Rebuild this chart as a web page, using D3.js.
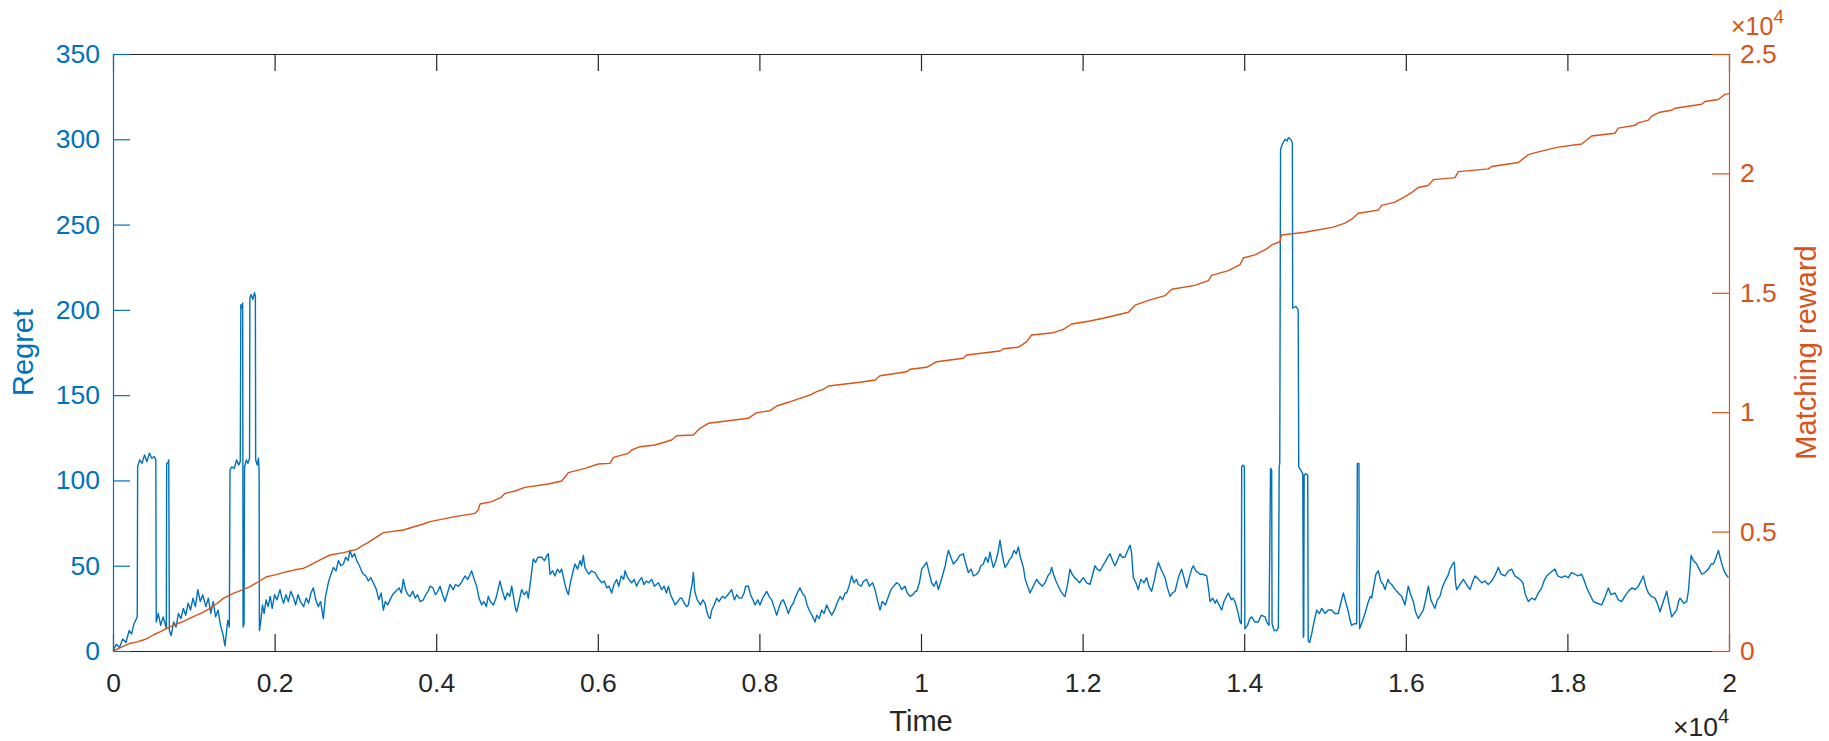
<!DOCTYPE html>
<html>
<head>
<meta charset="utf-8">
<script src="https://cdn.jsdelivr.net/npm/d3@7"></script>
<style>
	body { margin: 0; background: #ffffff; }
	text { font-family: "Liberation Sans", Arial, Helvetica, sans-serif; }
</style>
</head>
<body>
<div id="mioGrafico"></div>
<script>
// Tick degli assi
var timeTicks = [0, 2000, 4000, 6000, 8000, 10000, 12000, 14000, 16000, 18000, 20000];
var timeTickLabels = ["0", "0.2", "0.4", "0.6", "0.8", "1", "1.2", "1.4", "1.6", "1.8", "2"];
var regretTicks = [0, 50, 100, 150, 200, 250, 300, 350];
var rewardTicks = [0, 5000, 10000, 15000, 20000, 25000];
var rewardTickLabels = ["0", "0.5", "1", "1.5", "2", "2.5"];

// Regret nel tempo [tempo, regret]
var regret = [
	[0,0],[40,4],[80,2],[120,7],[160,5],[200,12],[230,10],[260,16],[290,19],[300,20],
	[305,108],[330,112],[360,110],[390,115],[420,111],[450,116],[480,113],[510,114],[530,112],
	[535,17],[560,22],[590,15],[620,20],[645,16],[660,13],
	[664,110],[680,110],[690,112],[697,12],
	[720,9],[750,17],[780,14],[810,22],[840,19],[870,25],[900,21],[930,28],[960,24],[990,31],[1020,26],
	[1050,36],[1080,29],[1110,33],[1150,26],[1180,31],[1210,22],[1240,29],[1270,20],[1300,24],[1330,15],
	[1360,10],[1385,3],[1400,9],[1420,18],[1440,14],
	[1448,106],[1470,108],[1500,107],[1530,112],[1555,109],[1575,111],
	[1582,203],[1595,201],[1605,204],
	[1610,14],[1622,16],
	[1628,108],[1650,112],[1670,110],[1690,113],
	[1694,207],[1710,209],[1730,206],[1750,210],[1762,208],
	[1766,112],[1785,109],[1800,113],[1808,106],
	[1812,12],[1830,18],[1850,27],[1870,22],[1895,30],[1920,26],[1945,32],[1970,25],[2000,33],[2030,30],
	[2067,36],[2090,31],[2112,28],[2140,33],[2170,29],[2200,35],[2236,31],[2260,27],[2290,33],[2320,29],
	[2360,26],[2390,31],[2420,28],[2450,34],[2479,37],[2510,30],[2540,26],[2570,29],[2603,19],[2630,32],
	[2665,40],[2690,44],[2727,49],[2760,47],[2790,53],[2820,50],[2851,51],[2880,55],[2910,53],[2933,59],
	[2960,55],[2990,57],[3016,53],[3050,50],[3075,47],[3098,45],[3130,44],[3160,41],[3190,43],[3222,40],
	[3260,36],[3290,30],[3320,34],[3346,24],[3370,29],[3400,27],[3428,30],[3460,33],[3500,35],[3540,37],
	[3570,34],[3593,42],[3620,36],[3650,33],[3676,32],[3710,35],[3740,31],[3770,33],[3800,29],[3841,30],
	[3870,33],[3900,35],[3923,38],[3960,37],[3990,33],[4020,35],
	[4047,38],[4080,33],[4109,29],[4140,34],[4171,39],[4210,36],[4240,39],[4274,38],[4310,40],[4357,44],
	[4390,42],[4420,45],[4439,47],[4470,42],[4501,38],[4530,31],[4563,27],[4590,29],[4620,26],[4645,32],
	[4670,29],[4707,27],[4740,31],[4760,35],[4790,41],[4820,35],[4852,30],[4880,34],[4910,32],[4934,38],
	[4960,31],[4980,25],[4996,23],[5020,28],[5058,36],[5090,33],[5120,35],[5140,31],[5170,42],[5202,54],
	[5230,52],[5260,55],[5305,55],[5340,53],[5370,56],[5388,57],[5409,45],[5440,47],[5470,44],[5500,48],
	[5530,46],[5553,48],[5580,42],[5610,36],[5636,33],[5660,40],[5690,46],[5718,51],[5750,48],[5780,53],
	[5800,50],[5821,56],[5840,49],[5863,47],[5890,45],[5920,47],[5966,46],[6000,43],[6049,40],[6080,41],
	[6110,37],[6140,38],[6172,34],[6200,39],[6234,42],[6260,38],[6290,44],[6320,42],[6337,47],[6370,43],
	[6400,41],[6420,40],[6450,42],[6480,38],[6510,41],[6543,43],[6570,39],[6600,41],[6630,40],[6667,42],
	[6700,38],[6750,40],[6790,36],[6820,38],[6850,34],[6874,38],[6900,33],[6930,30],[6956,27],[6990,29],
	[7020,31],[7039,31],[7070,28],[7100,26],[7121,27],[7150,35],[7170,40],[7183,46],[7200,35],[7230,30],
	[7245,29],[7270,27],[7300,30],[7327,28],[7350,23],[7370,20],[7389,19],[7410,24],[7440,27],[7472,31],
	[7500,29],[7540,32],[7575,31],[7610,33],[7657,36],[7690,30],[7720,33],[7750,31],[7781,31],[7810,34],
	[7830,38],[7864,38],[7890,33],[7920,30],[7946,27],[7980,30],[8007,27],
	[8040,31],[8090,35],[8120,32],[8152,30],[8180,26],[8214,21],[8240,25],[8270,29],[8296,30],[8330,26],
	[8358,22],[8390,26],[8420,28],[8441,31],[8470,34],[8502,37],[8530,34],[8564,32],[8590,27],[8626,23],
	[8650,21],[8670,19],[8688,17],[8710,21],[8740,19],[8771,24],[8800,22],[8833,27],[8860,24],[8895,21],
	[8930,24],[8960,28],[8998,32],[9030,30],[9060,34],[9080,34],[9110,38],[9142,44],[9170,40],[9200,42],
	[9225,39],[9260,38],[9290,41],[9328,42],[9360,38],[9400,40],[9431,36],[9460,30],[9493,24],[9520,29],
	[9560,27],[9596,32],[9630,36],[9660,38],[9699,40],[9730,39],[9760,36],[9802,38],[9830,34],[9864,32],
	[9900,33],[9930,35],[9947,35],[9980,40],[10009,48],[10040,50],[10070,52],[10100,46],[10132,40],[10160,38],
	[10190,41],[10215,36],[10240,40],[10277,46],[10300,50],[10320,55],[10339,59],[10370,55],[10400,51],[10440,53],
	[10480,56],[10524,57],[10550,52],[10586,46],[10620,48],[10650,44],[10689,45],[10720,47],[10740,50],[10771,51],
	[10800,55],[10830,52],[10854,58],[10875,53],[10895,49],[10920,52],[10950,57],[10978,65],[11000,58],[11020,53],
	[11040,49],[11070,51],[11100,54],[11122,55],[11150,59],[11180,57],[11205,61],[11230,55],[11267,49],[11290,42],
	[11320,38],[11349,34],[11380,37],[11410,40],[11432,42],[11460,40],[11500,38],[11535,40],[11570,44],[11600,46],
	[11617,49],[11640,45],[11670,41],[11700,38],[11730,35],[11760,33],[11782,32],[11810,38],[11844,48],[11870,45],
	[11900,43],[11926,42],[11960,40],[12009,43],[12050,40],
	[12091,39],[12120,44],[12153,50],[12180,48],[12215,47],[12250,50],[12277,52],[12310,55],[12339,57],[12370,53],
	[12401,50],[12430,53],[12463,57],[12490,55],[12524,55],[12550,58],[12586,62],[12605,58],[12628,43],[12660,40],
	[12689,36],[12720,42],[12760,40],[12793,43],[12820,38],[12854,35],[12890,42],[12910,47],[12937,52],[12970,48],
	[13000,45],[13020,43],[13050,37],[13082,32],[13110,34],[13144,35],[13180,42],[13200,45],[13226,48],[13260,42],
	[13288,37],[13320,43],[13350,48],[13371,50],[13400,47],[13430,46],[13453,45],[13490,45],[13536,44],[13560,36],
	[13577,29],[13610,31],[13640,28],[13659,30],[13690,27],[13721,24],[13750,29],[13780,32],[13804,34],[13840,30],
	[13860,31],[13886,29],[13910,25],[13930,21],[13948,17],[13965,16],
	[13969,108],[13985,109],[14002,108],[14008,13],[14040,15],[14070,19],[14093,20],[14130,17],[14175,17],[14210,21],
	[14258,20],[14280,17],[14307,15],
	[14326,107],[14340,106],[14345,16],[14370,12],[14403,12],[14423,14],
	[14433,108],[14440,110],[14450,294],[14470,297],[14505,300],[14530,299],[14547,301],[14575,300],[14596,298],
	[14600,201],[14640,202],[14668,200],[14675,108],[14700,106],[14725,104],[14732,8],[14737,9],[14742,103],
	[14760,104],[14786,103],[14792,6],[14810,5],[14835,10],[14860,16],[14897,24],[14930,22],[14960,25],[15000,22],
	[15040,24],[15083,24],[15120,22],[15165,22],[15200,29],[15227,34],[15260,28],[15289,23],[15310,18],[15330,15],
	[15360,16],[15392,16],[15400,110],[15420,110],[15428,13],[15460,17],[15495,22],[15530,28],[15560,32],[15578,31],
	[15610,40],[15630,45],[15660,47],[15690,41],[15720,39],[15742,36],[15780,42],[15800,40],[15825,39],[15870,36],
	[15907,34],[15950,32],[15990,27],
	[16031,38],[16060,33],[16093,29],[16120,23],[16155,19],[16190,22],[16217,24],[16250,31],[16279,38],[16310,30],
	[16340,27],[16361,25],[16390,30],[16423,32],[16450,37],[16485,41],[16520,44],[16547,48],[16580,51],[16601,52],
	[16615,40],[16630,36],[16670,39],[16712,42],[16750,39],[16795,36],[16830,41],[16857,44],[16900,42],[16940,40],
	[16980,41],[17020,39],[17063,41],[17100,44],[17145,49],[17180,45],[17228,44],[17270,47],[17310,48],[17350,44],
	[17413,42],[17450,40],[17480,33],[17517,29],[17560,31],[17599,30],[17640,34],[17682,37],[17710,41],[17744,44],
	[17790,46],[17847,48],[17880,44],[17929,43],[17970,44],[18012,43],[18050,46],[18094,45],[18130,44],[18177,45],
	[18210,41],[18239,37],[18280,33],[18321,29],[18370,28],[18424,27],[18460,31],[18507,37],[18540,33],[18589,34],
	[18630,30],[18672,29],[18710,32],[18754,35],[18800,37],[18840,36],[18878,38],[18910,41],[18940,44],[18970,38],
	[19002,34],[19040,32],[19085,31],[19120,27],[19147,23],[19180,28],[19229,35],[19260,27],[19291,20],[19320,22],
	[19353,24],[19375,29],[19395,31],[19440,28],[19477,29],[19500,36],[19531,56],[19560,53],[19601,51],[19630,48],
	[19663,45],[19700,46],[19745,48],[19780,51],[19807,51],[19840,55],[19869,59],[19900,53],[19931,48],[19960,45],
	[19993,43]
];

// Matching reward cumulato [tempo, reward]
var reward = [
	[0,0],[100,150],[210,322],[300,380],[375,460],[420,520],[499,670],[580,800],[664,950],[730,1050],
	[788,1130],[880,1250],[994,1437],[1100,1600],[1200,1787],[1290,2000],[1365,2205],[1420,2300],[1489,2416],[1600,2560],
	[1696,2693],[1800,2900],[1902,3111],[2020,3200],[2150,3321],[2250,3400],[2355,3461],[2440,3600],[2521,3740],[2600,3880],
	[2686,4020],[2851,4118],[2950,4200],[3016,4258],[3080,4400],[3140,4509],[3250,4750],[3346,4955],[3593,5067],[3758,5234],
	[3850,5330],[3923,5416],[4233,5625],[4480,5765],[4520,5900],[4542,6156],[4687,6254],[4800,6420],[4852,6603],[4975,6700],
	[5099,6854],[5388,6993],[5553,7119],[5610,7350],[5635,7467],[5842,7650],[6007,7831],[6151,7859],[6192,8110],[6378,8278],
	[6419,8417],[6522,8555],[6708,8627],[6914,8836],[6976,9016],[7182,9045],[7265,9325],[7368,9535],[7863,9744],[7966,9980],
	[8131,10063],[8214,10260],[8358,10415],[8502,10582],[8626,10720],[8709,10860],[8791,10959],[8853,11097],[9245,11252],[9431,11348],
	[9493,11529],[9823,11696],[9864,11796],[10070,11880],[10194,12115],[10524,12257],[10565,12395],[10978,12563],[11018,12659],[11205,12718],
	[11308,12952],[11370,13233],[11638,13329],[11761,13471],[11865,13693],[12091,13819],[12256,13935],[12566,14184],[12649,14483],[12814,14681],
	[13020,14880],[13103,15146],[13391,15312],[13556,15511],[13598,15727],[13804,15926],[13948,16175],[13989,16457],[14134,16589],[14278,16838],
	[14340,17004],[14443,17137],[14460,17419],[14752,17535],[15103,17751],[15247,17917],[15330,18082],[15412,18331],[15660,18464],[15701,18663],
	[15866,18796],[15990,19028],[16072,19194],[16155,19409],[16279,19492],[16341,19741],[16609,19824],[16650,20073],[17021,20189],[17063,20289],
	[17393,20455],[17517,20786],[17640,20902],[17888,21101],[18176,21234],[18300,21566],[18589,21682],[18630,21898],[18836,22014],[18877,22113],
	[19001,22229],[19042,22395],[19145,22561],[19290,22644],[19331,22727],[19661,22893],[19702,23009],[19867,23092],[19950,23308],[20000,23341]
];

var blu = "#0072BD";
var arancio = "#D95319";
var grigio = "#262626";

// Dimensioni e margini del grafico
var margin = {top: 54, right: 100, bottom: 90, left: 113};
var width = 1616;
var height = 597;

var svg = d3.select("#mioGrafico")
	.append("svg")
	.attr("width", width + margin.left + margin.right)
	.attr("height", height + margin.top + margin.bottom)
	.append("g")
	.attr("transform", "translate(" + margin.left + "," + margin.top + ")");

// Scale
var x = d3.scaleLinear().domain([0, 20000]).range([0, width]);
var yLeft = d3.scaleLinear().domain([0, 350]).range([height, 0]);
var yRight = d3.scaleLinear().domain([0, 25000]).range([height, 0]);

function stileAsse(g, colore) {
	g.attr("color", colore)
		.attr("font-size", 26.5)
		.attr("font-family", "'Liberation Sans', Arial, Helvetica, sans-serif");
	g.selectAll(".domain, .tick line").attr("stroke-width", 1.2);
}

// Asse X sotto e sopra
svg.append("g")
	.attr("transform", "translate(0," + height + ")")
	.call(d3.axisBottom(x)
		.tickValues(timeTicks)
		.tickFormat(function (d, i) { return timeTickLabels[i]; })
		.tickSizeInner(-17)
		.tickSizeOuter(0)
		.tickPadding(22))
	.call(stileAsse, grigio);

svg.append("g")
	.call(d3.axisTop(x)
		.tickValues(timeTicks)
		.tickFormat("")
		.tickSizeInner(-17)
		.tickSizeOuter(0))
	.call(stileAsse, grigio);

// Asse Y sinistro (regret)
svg.append("g")
	.call(d3.axisLeft(yLeft)
		.tickValues(regretTicks)
		.tickSizeInner(-17)
		.tickSizeOuter(0)
		.tickPadding(13))
	.call(stileAsse, blu);

// Asse Y destro (matching reward)
svg.append("g")
	.attr("transform", "translate(" + width + ",0)")
	.call(d3.axisRight(yRight)
		.tickValues(rewardTicks)
		.tickFormat(function (d, i) { return rewardTickLabels[i]; })
		.tickSizeInner(-17)
		.tickSizeOuter(0)
		.tickPadding(11))
	.call(stileAsse, arancio);

// Linee dei dati
var lineaRegret = d3.line()
	.x(function (d) { return x(d[0]); })
	.y(function (d) { return yLeft(d[1]); });

var lineaReward = d3.line()
	.x(function (d) { return x(d[0]); })
	.y(function (d) { return yRight(d[1]); });

svg.append("path")
	.datum(regret)
	.attr("fill", "none")
	.attr("stroke", blu)
	.attr("stroke-width", 1.4)
	.attr("stroke-linejoin", "round")
	.attr("d", lineaRegret);

svg.append("path")
	.datum(reward)
	.attr("fill", "none")
	.attr("stroke", arancio)
	.attr("stroke-width", 1.4)
	.attr("stroke-linejoin", "round")
	.attr("d", lineaReward);

// Etichette degli assi
svg.append("text")
	.attr("x", width / 2)
	.attr("y", 731 - margin.top)
	.attr("text-anchor", "middle")
	.attr("font-size", 29)
	.attr("fill", grigio)
	.text("Time");

svg.append("text")
	.attr("transform", "translate(" + (33 - margin.left) + "," + (height / 2) + ") rotate(-90)")
	.attr("text-anchor", "middle")
	.attr("font-size", 29)
	.attr("fill", blu)
	.text("Regret");

svg.append("text")
	.attr("transform", "translate(" + (1816 - margin.left) + "," + (height / 2) + ") rotate(-90)")
	.attr("text-anchor", "middle")
	.attr("font-size", 29)
	.attr("fill", arancio)
	.text("Matching reward");

// Moltiplicatori x10^4
var espX = svg.append("text")
	.attr("x", width)
	.attr("y", 736 - margin.top)
	.attr("text-anchor", "end")
	.attr("font-size", 26.5)
	.attr("fill", grigio);
espX.append("tspan").text("\u00d710");
espX.append("tspan").attr("dy", -13).attr("font-size", 20).text("4");

var espY = svg.append("text")
	.attr("x", width + 2)
	.attr("y", 35 - margin.top)
	.attr("font-size", 25)
	.attr("fill", arancio);
espY.append("tspan").text("\u00d710");
espY.append("tspan").attr("dy", -12).attr("font-size", 19).text("4");
</script>
</body>
</html>
